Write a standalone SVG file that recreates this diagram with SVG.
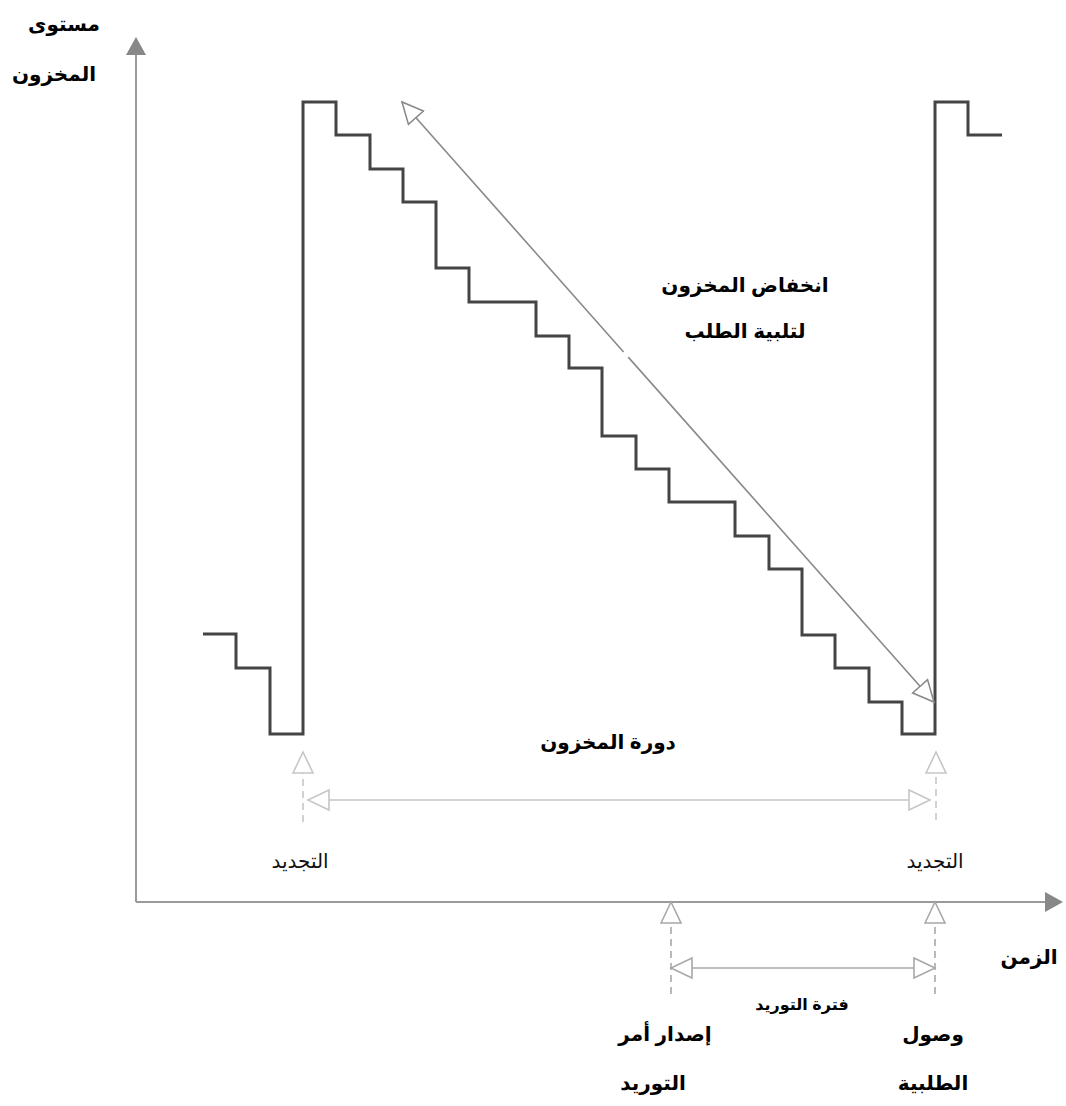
<svg xmlns="http://www.w3.org/2000/svg" width="1066" height="1106" viewBox="0 0 1066 1106">
  <style>
    .lbl { font-family: "Liberation Sans", "DejaVu Sans", sans-serif; fill: #000; text-anchor: middle; }
    .b { font-weight: bold; font-size: 20px; }
    .r { font-weight: normal; font-size: 20px; fill: #111; }
    .s { font-weight: bold; font-size: 16px; }
    .axis { stroke: #9a9a9a; stroke-width: 2; fill: none; }
    .stock { stroke: #444; stroke-width: 3; fill: none; stroke-linejoin: miter; }
    .diag { stroke: #8a8a8a; stroke-width: 1.6; fill: none; }
    .light { stroke: #c6c6c6; stroke-width: 1.6; fill: none; }
    .mid { stroke: #a8a8a8; stroke-width: 1.6; fill: none; }
    .dash { stroke-dasharray: 7 5; }
  </style>
  <defs>
    <marker id="openDark" markerUnits="userSpaceOnUse" markerWidth="26" markerHeight="26" refX="22" refY="11" orient="auto-start-reverse">
      <path d="M1,1 L22,11 L1,21 Z" fill="#fff" stroke="#8a8a8a" stroke-width="1.6"/>
    </marker>
    <marker id="openLight" markerUnits="userSpaceOnUse" markerWidth="26" markerHeight="26" refX="22" refY="11" orient="auto-start-reverse">
      <path d="M1,1 L22,11 L1,21 Z" fill="#fff" stroke="#c6c6c6" stroke-width="1.6"/>
    </marker>
    <marker id="openMid" markerUnits="userSpaceOnUse" markerWidth="26" markerHeight="26" refX="22" refY="11" orient="auto-start-reverse">
      <path d="M1,1 L22,11 L1,21 Z" fill="#fff" stroke="#a8a8a8" stroke-width="1.6"/>
    </marker>
  </defs>

  <rect width="1066" height="1106" fill="#fff"/>

  <!-- axes -->
  <g id="axes">
    <line class="axis" x1="136" y1="902" x2="136" y2="52"/>
    <path d="M136,37 L146,55 L126,55 Z" fill="#888"/>
    <line class="axis" x1="136" y1="902" x2="1046" y2="902"/>
    <path d="M1063,902 L1045,892 L1045,912 Z" fill="#888"/>
  </g>

  <!-- inventory level over time -->
  <g id="stock-level">
    <path class="stock" d="M203,634 H236 V668 H270 V734 H303 V102 H336 V135 H370 V169 H403 V202 H436 V268 H469 V302 H536 V336 H569 V368 H602 V436 H636 V469 H669 V502 H735 V536 H769 V569 H802 V635 H835 V668 H869 V702 H902 V734 H935 V102 H968 V135 H1002"/>
  </g>

  <g id="connectors">
    <!-- depletion trend -->
    <line class="diag" x1="402" y1="102" x2="934" y2="702" stroke-dasharray="334 7 1000" marker-start="url(#openDark)" marker-end="url(#openDark)"/>
    <!-- replenishment markers -->
    <line class="light dash" x1="303" y1="822" x2="303" y2="752" marker-end="url(#openLight)"/>
    <line class="light dash" x1="936" y1="820" x2="936" y2="752" marker-end="url(#openLight)"/>
    <line class="light" x1="308" y1="800" x2="930" y2="800" marker-start="url(#openLight)" marker-end="url(#openLight)"/>
    <!-- lead time markers -->
    <line class="mid dash" x1="671" y1="994" x2="671" y2="902" marker-end="url(#openMid)"/>
    <line class="mid dash" x1="935" y1="994" x2="935" y2="902" marker-end="url(#openMid)"/>
    <line class="mid" x1="671" y1="968" x2="935" y2="968" marker-start="url(#openMid)" marker-end="url(#openMid)"/>
  </g>

  <g id="label-y-axis">
    <text class="lbl b" x="64" y="31">مستوى</text>
    <text class="lbl b" x="54" y="81">المخزون</text>
  </g>
  <g id="label-depletion">
    <text class="lbl b" x="745" y="292">انخفاض المخزون</text>
    <text class="lbl b" x="745" y="338">لتلبية الطلب</text>
  </g>
  <g id="label-cycle">
    <text class="lbl b" x="608" y="749">دورة المخزون</text>
  </g>
  <g id="label-renew-left">
    <text class="lbl r" x="300" y="868">التجديد</text>
  </g>
  <g id="label-renew-right">
    <text class="lbl r" x="935" y="868">التجديد</text>
  </g>
  <g id="label-time">
    <text class="lbl b" x="1029" y="964">الزمن</text>
  </g>
  <g id="label-lead-time">
    <text class="lbl s" x="802" y="1010">فترة التوريد</text>
  </g>
  <g id="label-order">
    <text class="lbl b" x="665" y="1041">إصدار أمر</text>
    <text class="lbl b" x="653" y="1090">التوريد</text>
  </g>
  <g id="label-arrival">
    <text class="lbl b" x="933" y="1041">وصول</text>
    <text class="lbl b" x="933" y="1090">الطلبية</text>
  </g>
</svg>
